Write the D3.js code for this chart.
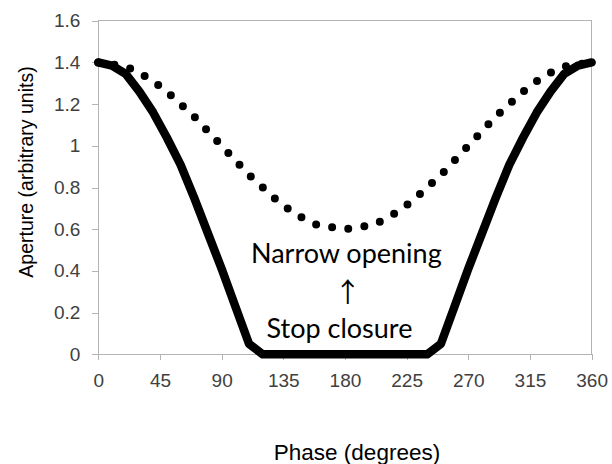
<!DOCTYPE html>
<html>
<head>
<meta charset="utf-8">
<script src="https://cdn.jsdelivr.net/npm/d3@7"></script>
<style>
  html, body { margin: 0; padding: 0; background: #ffffff; }
  svg { display: block; }
</style>
</head>
<body>
<svg id="chart" width="612" height="464"></svg>
<script>
// ---- data ----
const phaseDeg = [0, 10, 20, 30, 40, 50, 60, 70, 80, 90, 100, 110, 120, 130, 140, 150, 160, 170, 180,
                  190, 200, 210, 220, 230, 240, 250, 260, 270, 280, 290, 300, 310, 320, 330, 340, 350, 360];
const stopClosure = [1.40, 1.385, 1.345, 1.26, 1.16, 1.04, 0.91, 0.75, 0.58, 0.41, 0.23, 0.05, 0,
                     0, 0, 0, 0, 0, 0, 0, 0, 0, 0, 0, 0,
                     0.05, 0.23, 0.41, 0.58, 0.75, 0.91, 1.04, 1.16, 1.26, 1.345, 1.385, 1.40];
const narrowOpening = [1.40, 1.39, 1.38, 1.35, 1.31, 1.26, 1.20, 1.14, 1.07, 1.00, 0.93, 0.86, 0.80,
                       0.74, 0.69, 0.65, 0.62, 0.61, 0.60, 0.61, 0.62, 0.65, 0.69, 0.74, 0.80,
                       0.86, 0.93, 1.00, 1.07, 1.14, 1.20, 1.26, 1.31, 1.35, 1.38, 1.39, 1.40];
const xTicks = [0, 45, 90, 135, 180, 225, 270, 315, 360];
const yTicks = [0, 0.2, 0.4, 0.6, 0.8, 1, 1.2, 1.4, 1.6];
const xTitle = "Phase (degrees)";
const yTitle = "Aperture (arbitrary units)";
const labelTop = "Narrow opening";
const labelArrow = "\u2191";
const labelBottom = "Stop closure";

// ---- layout ----
const W = 612, H = 464;
const margin = { left: 98.3, right: 20.4, top: 20.7, bottom: 109.7 };
const svg = d3.select("#chart");

const x = d3.scaleLinear().domain([0, 360]).range([margin.left, W - margin.right]);
const y = d3.scaleLinear().domain([0, 1.6]).range([H - margin.bottom, margin.top]);

const axisColor = "#b4b4b4";
const tickFont = "'Liberation Sans', Arial, sans-serif";

// plot area border (top & right)
svg.append("path")
  .attr("d", `M${x(0)},${y(1.6)}H${x(360)}V${y(0)}`)
  .attr("fill", "none")
  .attr("stroke", axisColor)
  .attr("stroke-width", 1)
  .attr("shape-rendering", "crispEdges");

// x axis
const gx = svg.append("g")
  .attr("transform", `translate(0,${y(0)})`)
  .call(d3.axisBottom(x).tickValues(xTicks).tickSize(6).tickPadding(13).tickFormat(d3.format("d")));
// y axis
const gy = svg.append("g")
  .attr("transform", `translate(${x(0)},0)`)
  .call(d3.axisLeft(y).tickValues(yTicks).tickSize(6).tickPadding(12)
        .tickFormat(d => d === 0 || d === 1 ? d3.format("d")(d) : d3.format(".1f")(d)));

[gx, gy].forEach(g => {
  g.selectAll("path.domain").attr("stroke", axisColor).attr("shape-rendering", "crispEdges");
  g.selectAll(".tick line").attr("stroke", axisColor).attr("shape-rendering", "crispEdges");
  g.selectAll(".tick text")
    .attr("fill", "#404040")
    .style("font-family", tickFont)
    .style("font-size", "19px");
});

// series
const pts = phaseDeg.map((d, i) => ({ p: d, s: stopClosure[i], n: narrowOpening[i] }));

svg.append("path")
  .datum(pts)
  .attr("fill", "none")
  .attr("stroke", "#000")
  .attr("stroke-width", 8)
  .attr("stroke-linecap", "round")
  .attr("stroke-dasharray", "0 16.3")
  .attr("d", d3.line().x(d => x(d.p)).y(d => y(d.n)));

svg.append("path")
  .datum(pts)
  .attr("fill", "none")
  .attr("stroke", "#000")
  .attr("stroke-width", 8.5)
  .attr("stroke-linejoin", "round")
  .attr("stroke-linecap", "round")
  .attr("d", d3.line().x(d => x(d.p)).y(d => y(d.s)));

// annotations
const annFont = "Lato, 'Noto Sans', sans-serif";
svg.append("text")
  .attr("x", x(181)).attr("y", y(0.44))
  .attr("text-anchor", "middle")
  .style("font-family", annFont).style("font-size", "27px")
  .attr("fill", "#000")
  .text(labelTop);
svg.append("text")
  .attr("x", x(182)).attr("y", y(0.25))
  .attr("text-anchor", "middle")
  .style("font-family", "'Noto Sans CJK SC', 'DejaVu Sans', sans-serif").style("font-size", "27px")
  .attr("fill", "#000")
  .text(labelArrow);
svg.append("text")
  .attr("x", x(176)).attr("y", y(0.078))
  .attr("text-anchor", "middle")
  .style("font-family", annFont).style("font-size", "27px")
  .attr("fill", "#000")
  .text(labelBottom);

// axis titles
svg.append("text")
  .attr("x", 357).attr("y", 460)
  .attr("text-anchor", "middle")
  .style("font-family", tickFont).style("font-size", "22.5px")
  .attr("fill", "#000")
  .text(xTitle);
svg.append("text")
  .attr("transform", `translate(33,172) rotate(-90)`)
  .attr("text-anchor", "middle")
  .style("font-family", tickFont).style("font-size", "19.5px")
  .attr("fill", "#000")
  .text(yTitle);
</script>
</body>
</html>
